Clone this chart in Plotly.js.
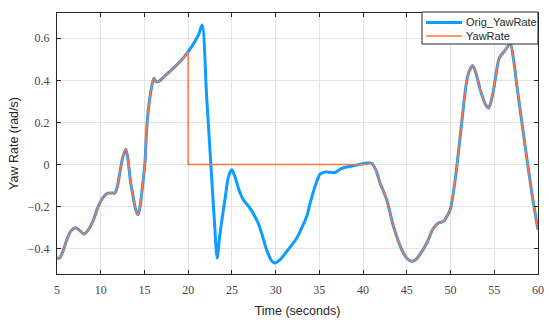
<!DOCTYPE html>
<html>
<head>
<meta charset="utf-8">
<script src="https://cdn.plot.ly/plotly-3.0.1.min.js"></script>
<style>html,body{margin:0;padding:0;background:#fff}#chart{width:550px;height:323px}</style>
</head>
<body>
<div id="chart"></div>
<script>
// Original yaw rate signal (time in seconds, rad/s)
const origT = [5.0,5.3,5.7,6.1,6.6,7.1,7.5,8.1,8.5,9.1,9.7,10.3,10.84,11.3,11.6,11.9,12.1,12.5,12.86,13.1,13.4,13.7,14.0,14.27,14.5,14.73,15.04,15.3,15.7,16.07,16.3,16.56,17.3,18.28,19.24,20.0,20.76,21.2,21.6,22.1,22.55,23.0,23.32,23.6,24.2,24.6,24.97,25.34,25.8,26.3,27.06,28.0,28.5,28.97,29.5,29.92,30.5,31.26,32.4,33.0,33.55,34.0,34.5,35.1,35.65,36.3,36.8,37.4,38.1,39.0,39.85,40.5,41.0,41.5,41.94,42.7,43.47,44.43,45.0,45.57,46.0,46.33,47.29,48.0,48.62,49.19,49.6,49.96,50.53,51.1,51.87,52.2,52.56,53.0,53.4,54.0,54.35,54.6,54.92,55.2,55.57,56.26,56.83,57.2,57.6,58.54,59.3,60.0];
const origYaw = [-0.445,-0.444,-0.41,-0.36,-0.315,-0.30,-0.31,-0.33,-0.315,-0.27,-0.20,-0.155,-0.136,-0.135,-0.136,-0.105,-0.06,0.03,0.073,0.03,-0.08,-0.15,-0.215,-0.239,-0.2,-0.12,0.0,0.196,0.34,0.41,0.395,0.394,0.42,0.457,0.497,0.536,0.584,0.618,0.663,0.33,0.03,-0.27,-0.444,-0.34,-0.167,-0.06,-0.025,-0.057,-0.12,-0.167,-0.207,-0.278,-0.34,-0.405,-0.455,-0.468,-0.452,-0.413,-0.35,-0.30,-0.247,-0.175,-0.104,-0.045,-0.035,-0.037,-0.038,-0.022,-0.012,-0.005,0.003,0.007,0.006,-0.03,-0.088,-0.167,-0.294,-0.405,-0.445,-0.46,-0.452,-0.437,-0.373,-0.305,-0.278,-0.27,-0.245,-0.215,-0.073,0.133,0.402,0.45,0.47,0.42,0.355,0.285,0.268,0.295,0.355,0.43,0.505,0.544,0.573,0.5,0.37,0.085,-0.136,-0.31];

// Processed yaw rate (zeroed between ~20 s and ~40.5 s)
const yawT = [5.0,5.3,5.7,6.1,6.6,7.1,7.5,8.1,8.5,9.1,9.7,10.3,10.84,11.3,11.6,11.9,12.1,12.5,12.86,13.1,13.4,13.7,14.0,14.27,14.5,14.73,15.04,15.3,15.7,16.07,16.3,16.56,17.3,18.28,19.24,20.0,20.0,40.5,41.0,41.5,41.94,42.7,43.47,44.43,45.0,45.57,46.0,46.33,47.29,48.0,48.62,49.19,49.6,49.96,50.53,51.1,51.87,52.2,52.56,53.0,53.4,54.0,54.35,54.6,54.92,55.2,55.57,56.26,56.83,57.2,57.6,58.54,59.3,60.0];
const yawRate = [-0.445,-0.444,-0.41,-0.36,-0.315,-0.30,-0.31,-0.33,-0.315,-0.27,-0.20,-0.155,-0.136,-0.135,-0.136,-0.105,-0.06,0.03,0.073,0.03,-0.08,-0.15,-0.215,-0.239,-0.2,-0.12,0.0,0.196,0.34,0.41,0.395,0.394,0.42,0.457,0.497,0.536,0.0,0.0,0.006,-0.03,-0.088,-0.167,-0.294,-0.405,-0.445,-0.46,-0.452,-0.437,-0.373,-0.305,-0.278,-0.27,-0.245,-0.215,-0.073,0.133,0.402,0.45,0.47,0.42,0.355,0.285,0.268,0.295,0.355,0.43,0.505,0.544,0.573,0.5,0.37,0.085,-0.136,-0.31];

const seriesNames = ['Orig_YawRate', 'YawRate'];
const xTicks = [5,10,15,20,25,30,35,40,45,50,55,60];
const yTicks = [-0.4,-0.2,0,0.2,0.4,0.6];
const yTickText = ['\u22120.4','\u22120.2','0','0.2','0.4','0.6'];

const BLUE = '#0d9cff';
const ORANGE = '#ff7443';
const SM = 0.8;

// split the processed series at the step so the step/flat part is drawn straight
let s = 0;
for (let i = 0; i < yawT.length - 1; i++) { if (yawT[i] === yawT[i+1]) { s = i; break; } }
const e = s + 2;

const traces = [
  {x: origT, y: origYaw, type: 'scatter', mode: 'lines', name: seriesNames[0],
   line: {color: BLUE, width: 3, shape: 'spline', smoothing: SM}},
  {x: yawT.slice(0, s+1), y: yawRate.slice(0, s+1), type: 'scatter', mode: 'lines', name: seriesNames[1],
   line: {color: ORANGE, width: 1.5, shape: 'spline', smoothing: SM}},
  {x: yawT.slice(s, e+1), y: yawRate.slice(s, e+1), type: 'scatter', mode: 'lines', name: seriesNames[1],
   line: {color: ORANGE, width: 1.5, shape: 'linear'}},
  {x: yawT.slice(e), y: yawRate.slice(e), type: 'scatter', mode: 'lines', name: seriesNames[1],
   line: {color: ORANGE, width: 1.5, shape: 'spline', smoothing: SM}}
];

const axisCommon = {
  showline: true, linecolor: '#262626', linewidth: 1, mirror: 'ticks',
  ticks: 'inside', ticklen: 4, tickcolor: '#262626', tickwidth: 1,
  showgrid: true, gridcolor: '#e4e4e4', gridwidth: 1, zeroline: false,
  tickfont: {family: 'Liberation Serif, serif', size: 12, color: '#444'}
};

// legend box (MATLAB-style) drawn in paper coordinates
const W = 550, H = 323, ML = 57, MR = 12, MT = 13, MB = 49;
const pw = W - ML - MR, ph = H - MT - MB;
const px = v => (v - ML) / pw;
const py = v => (H - MB - v) / ph;
const legFont = {family: 'Liberation Sans, Arial, sans-serif', size: 11, color: '#262626'};

const layout = {
  width: W, height: H,
  margin: {l: ML, r: MR, t: MT, b: MB},
  paper_bgcolor: '#fff', plot_bgcolor: '#fff',
  showlegend: false,
  xaxis: Object.assign({}, axisCommon, {
    range: [5, 60], tickmode: 'array', tickvals: xTicks, ticktext: xTicks.map(String),
    ticklabelstandoff: 5,
    title: {text: 'Time (seconds)', font: {family: 'Liberation Sans, Arial, sans-serif', size: 12.5, color: '#262626'}, standoff: 9}
  }),
  yaxis: Object.assign({}, axisCommon, {
    range: [-0.52, 0.72], tickmode: 'array', tickvals: yTicks, ticktext: yTickText,
    ticklabelstandoff: 4,
    title: {text: 'Yaw Rate (rad/s)', font: {family: 'Liberation Sans, Arial, sans-serif', size: 12.5, color: '#262626'}, standoff: 6}
  }),
  shapes: [
    {type: 'rect', xref: 'paper', yref: 'paper', x0: px(422), x1: px(538), y0: py(44), y1: py(12),
     fillcolor: '#fff', line: {color: '#262626', width: 1}, layer: 'above'},
    {type: 'line', xref: 'paper', yref: 'paper', x0: px(426), x1: px(462), y0: py(22.5), y1: py(22.5),
     line: {color: BLUE, width: 3}},
    {type: 'line', xref: 'paper', yref: 'paper', x0: px(426), x1: px(462), y0: py(36), y1: py(36),
     line: {color: ORANGE, width: 1.5}}
  ],
  annotations: [
    {xref: 'paper', yref: 'paper', x: px(464), y: py(22.5), xanchor: 'left', yanchor: 'middle',
     text: seriesNames[0], showarrow: false, font: legFont},
    {xref: 'paper', yref: 'paper', x: px(464), y: py(36), xanchor: 'left', yanchor: 'middle',
     text: seriesNames[1], showarrow: false, font: legFont}
  ]
};

Plotly.newPlot('chart', traces, layout, {displayModeBar: false, staticPlot: true});
</script>
</body>
</html>
